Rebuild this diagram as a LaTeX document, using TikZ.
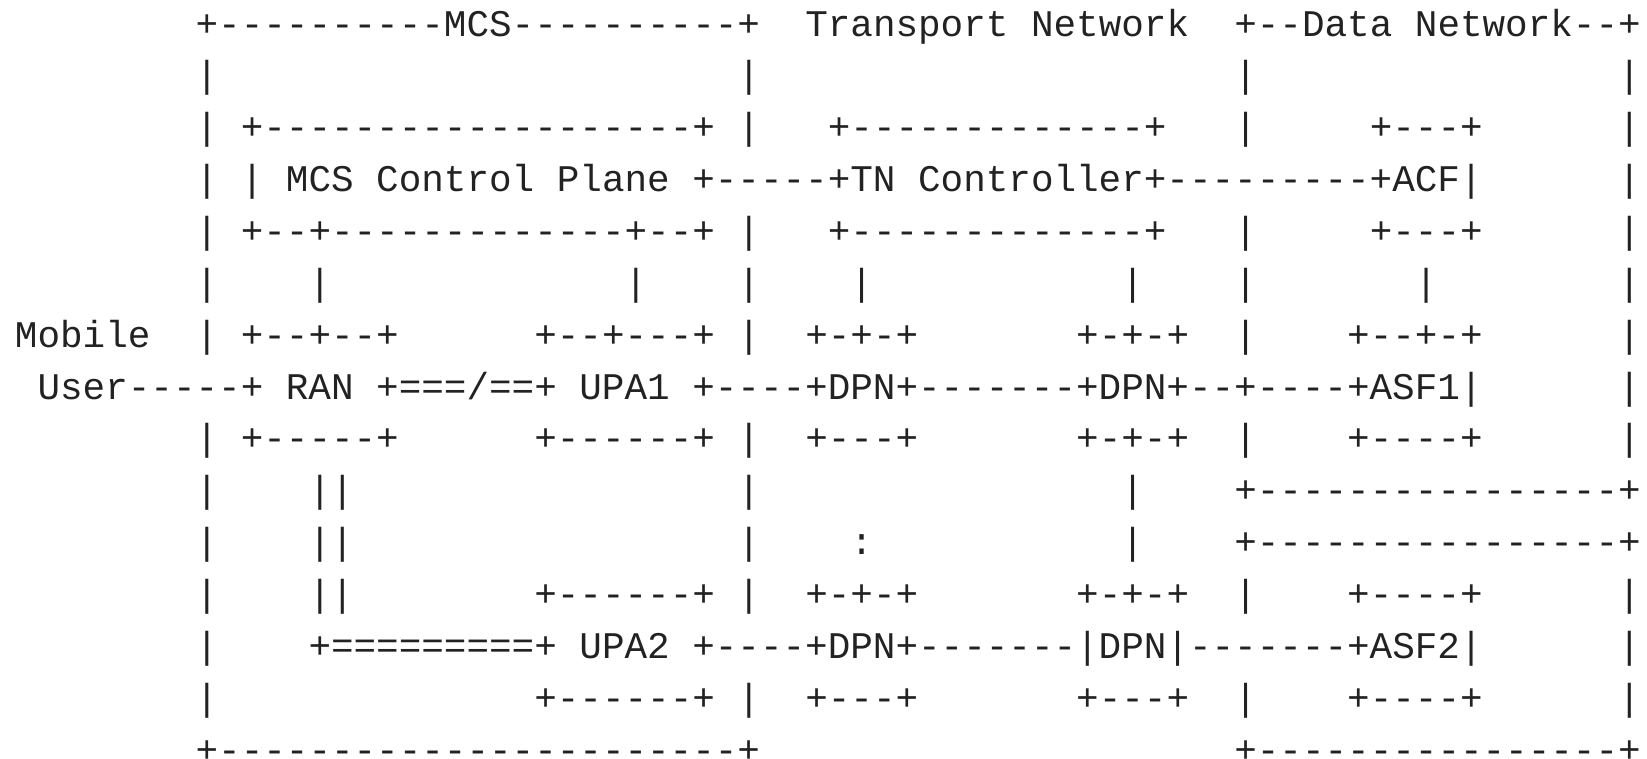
\documentclass[tikz,border=0pt]{standalone}
\usepackage{fontspec}
\newfontfamily\asciimono[Ligatures=TeXOff]{Liberation Mono}
\definecolor{ink}{HTML}{222222}
\newcommand\T[3]{\node[txt] (r#1c#2) at ({14.97+#2*22.58},{36.15+(#1-1)*51.85}) {#3};}
\begin{document}
\begin{tikzpicture}[x=1pt,y=-1pt,
  txt/.style={anchor=base west,inner sep=0pt,outer sep=0pt,text=ink,
    font=\asciimono\fontsize{37.63pt}{40pt}\selectfont}]
\useasboundingbox (0,0) rectangle (1647,759);
% row 1
\T{1}{8}{+----------MCS----------+}
\T{1}{35}{Transport Network}
\T{1}{54}{+--Data Network--+}
% row 2
\T{2}{8}{|}\T{2}{32}{|}\T{2}{54}{|}\T{2}{71}{|}
% row 3
\T{3}{8}{|}\T{3}{10}{+-------------------+}\T{3}{32}{|}
\T{3}{36}{+-------------+}\T{3}{54}{|}\T{3}{60}{+---+}\T{3}{71}{|}
% row 4
\T{4}{8}{|}\T{4}{10}{|}
\T{4}{12}{MCS Control Plane +-----+TN Controller+---------+ACF|}
\T{4}{71}{|}
% row 5
\T{5}{8}{|}\T{5}{10}{+--+-------------+--+}\T{5}{32}{|}
\T{5}{36}{+-------------+}\T{5}{54}{|}\T{5}{60}{+---+}\T{5}{71}{|}
% row 6
\T{6}{8}{|}\T{6}{13}{|}\T{6}{27}{|}\T{6}{32}{|}\T{6}{37}{|}\T{6}{49}{|}
\T{6}{54}{|}\T{6}{62}{|}\T{6}{71}{|}
% row 7
\T{7}{0}{Mobile}\T{7}{8}{|}\T{7}{10}{+--+--+}\T{7}{23}{+--+---+}\T{7}{32}{|}
\T{7}{35}{+-+-+}\T{7}{47}{+-+-+}\T{7}{54}{|}\T{7}{59}{+--+-+}\T{7}{71}{|}
% row 8
\T{8}{1}{User-----+ RAN +===/==+ UPA1 +----+DPN+-------+DPN+--+----+ASF1|}
\T{8}{71}{|}
% row 9
\T{9}{8}{|}\T{9}{10}{+-----+}\T{9}{23}{+------+}\T{9}{32}{|}
\T{9}{35}{+---+}\T{9}{47}{+-+-+}\T{9}{54}{|}\T{9}{59}{+----+}\T{9}{71}{|}
% row 10
\T{10}{8}{|}\T{10}{13}{||}\T{10}{32}{|}\T{10}{49}{|}\T{10}{54}{+----------------+}
% row 11
\T{11}{8}{|}\T{11}{13}{||}\T{11}{32}{|}\T{11}{37}{:}\T{11}{49}{|}\T{11}{54}{+----------------+}
% row 12
\T{12}{8}{|}\T{12}{13}{||}\T{12}{23}{+------+}\T{12}{32}{|}
\T{12}{35}{+-+-+}\T{12}{47}{+-+-+}\T{12}{54}{|}\T{12}{59}{+----+}\T{12}{71}{|}
% row 13
\T{13}{8}{|}
\T{13}{13}{+=========+ UPA2 +----+DPN+-------|DPN|-------+ASF2|}
\T{13}{71}{|}
% row 14
\T{14}{8}{|}\T{14}{23}{+------+}\T{14}{32}{|}
\T{14}{35}{+---+}\T{14}{47}{+---+}\T{14}{54}{|}\T{14}{59}{+----+}\T{14}{71}{|}
% row 15
\T{15}{8}{+-----------------------+}
\T{15}{54}{+----------------+}
\end{tikzpicture}
\end{document}
